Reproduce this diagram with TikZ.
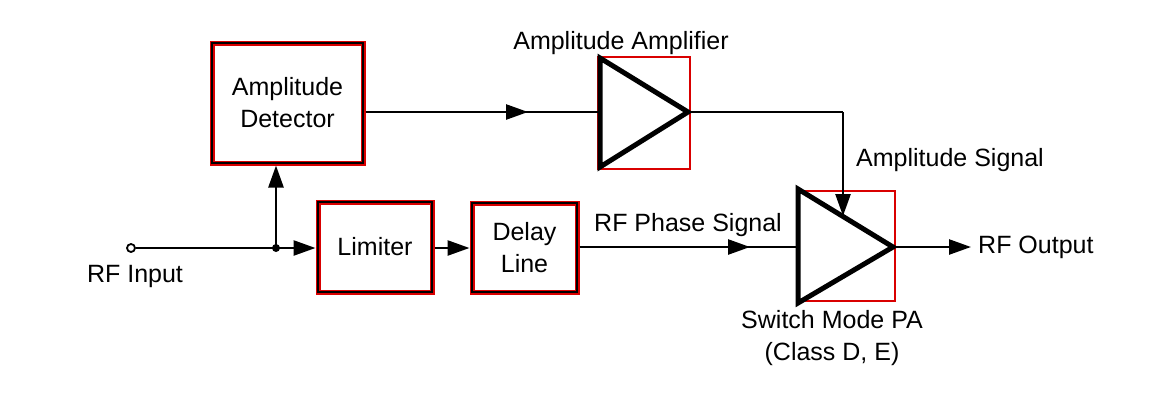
\documentclass[tikz,border=0pt]{standalone}
\usepackage{fontspec}
\setmainfont{Liberation Sans}
\usetikzlibrary{arrows.meta}
\begin{document}
\begin{tikzpicture}[x=1pt,y=-1pt,
  txt/.style={font=\fontsize{25}{32}\selectfont, inner sep=0pt, align=center},
  blockbox/.style={draw=red!85!black, line width=5pt, fill=white,
     postaction={draw=black, line width=1.8pt}, txt},
  ampsq/.style={draw=red!85!black, line width=2pt, inner sep=0pt},
  tri/.style={line width=5pt, line join=miter, line cap=round},
  wire/.style={line width=2.5pt},
  arr/.style={wire, -{Triangle[length=22pt,width=15pt]}}]
\useasboundingbox (0,0) rectangle (1164,400);
\fill[white] (0,0) rectangle (1164,400);

% blocks
\node[blockbox, minimum width=151pt, minimum height=120pt] (det) at (287.5,103) {Amplitude\\Detector};
\node[blockbox, minimum width=114pt, minimum height=90pt] (lim) at (375,247) {Limiter};
\node[blockbox, minimum width=105pt, minimum height=89pt] (dly) at (524.5,247.5) {Delay\\Line};

% amplitude amplifier
\node[ampsq, minimum width=92pt, minimum height=112pt] (aa) at (644,113) {};
\coordinate (aatip) at (688,112);
\draw[tri] (600,58) -- (aatip) -- (600,167) -- cycle;

% switch mode PA
\node[ampsq, minimum width=96pt, minimum height=110pt] (pa) at (847,246) {};
\coordinate (patip) at (893,247);
\draw[tri] (798,189) -- (patip) -- (798,303) -- cycle;

% input
\coordinate (jn) at (276,248);
\node[circle, draw, line width=1.8pt, fill=white, inner sep=0pt, minimum size=8pt] (in) at (131,248) {};
\draw[wire] (in) -- (jn);
\fill (jn) circle (4pt);
\draw[arr] (jn) -- (lim.west |- jn);
\draw[arr] (jn) -- (det.south -| jn);
\draw[arr] (lim.east |- 0,248) -- (dly.west |- 0,248);

% detector to amplifier
\coordinate (m1) at (528,112);
\draw[wire] (det.east |- m1) -- (600,112);
\draw[arr] (det.east |- m1) -- (m1);

% amplifier to PA
\coordinate (c1) at (843,112);
\coordinate (c2) at (843,216);
\draw[wire] (aatip) -- (c1);
\draw[arr] (c1) -- (c2);

% phase line
\coordinate (m2) at (750,247);
\draw[wire] (dly.east |- m2) -- (798,247);
\draw[arr] (dly.east |- m2) -- (m2);

% output
\coordinate (out) at (971,247);
\draw[arr] (pa.east |- out) -- (out);

% labels
\node[txt] (lin) at (135,276) {RF Input};
\node[txt] (laa) at (621,43) {Amplitude Amplifier};
\node[txt] (las) at (950,160) {Amplitude Signal};
\node[txt] (lph) at (688,225) {RF Phase Signal};
\node[txt, anchor=west] (lout) at (978,247) {RF Output};
\node[txt] (lpa) at (832,338) {Switch Mode PA\\(Class D, E)};
\end{tikzpicture}
\end{document}
